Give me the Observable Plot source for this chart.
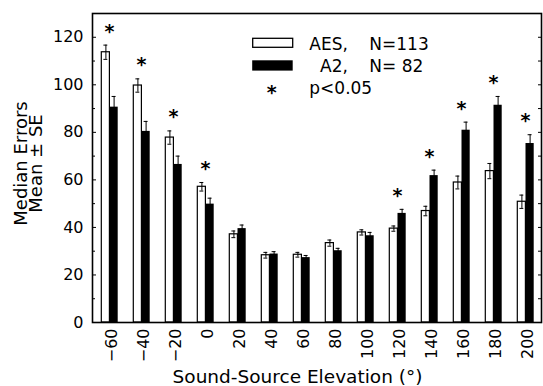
<!DOCTYPE html>
<html><head><meta charset="utf-8">
<script src="https://cdn.jsdelivr.net/npm/d3@7"></script>
<script src="https://cdn.jsdelivr.net/npm/@observablehq/plot@0.6"></script>
<style>
body{margin:0;background:#fff;}
#wrap{position:relative;width:543px;height:386px;font-family:"DejaVu Sans",sans-serif;}
#legend{position:absolute;left:0;top:0;pointer-events:none;}
</style></head><body><div id="wrap"></div>
<script>
const elevations = [-60,-40,-20,0,20,40,60,80,100,120,140,160,180,200];
const aesMean = [113.7,99.7,77.8,57.1,37.1,28.3,28.5,33.4,37.9,39.5,46.9,58.9,63.7,50.8];
const aesSE   = [3.0,2.8,2.8,1.8,1.4,1.2,1.0,1.3,1.1,1.1,2.0,2.7,3.2,2.8];
const a2Mean  = [90.6,80.4,66.5,49.8,39.5,28.8,27.3,30.2,36.5,45.9,61.8,80.9,91.4,75.3];
const a2SE    = [4.5,4.2,3.5,2.5,1.5,1.0,0.9,1.0,1.4,1.7,2.3,3.4,3.7,3.7];
const significant = [-60,-40,-20,0,120,140,160,180,200];
const yTicks = [0,20,40,60,80,100,120];
const yMinorTicks = [10,30,50,70,90,110];
const legendNames = ["AES,", "A2,"];
const legendN = ["N=113", "N= 82"];
const sigLabel = "p<0.05";

const aesRows = elevations.map((e,i)=>({elev:e, mean:aesMean[i], se:aesSE[i]}));
const a2Rows  = elevations.map((e,i)=>({elev:e, mean:a2Mean[i], se:a2SE[i]}));
const sigRows = significant.map(e=>{
  const i = elevations.indexOf(e);
  return {elev:e, top: Math.max(aesMean[i]+aesSE[i], a2Mean[i]+a2SE[i])};
});
const fmt = d => d < 0 ? "\u2212" + (-d) : String(d);

const chart = Plot.plot({
  width: 543, height: 386,
  marginLeft: 92, marginRight: 2, marginTop: 13, marginBottom: 64,
  style: {fontFamily: "DejaVu Sans, sans-serif", background: "white", color: "black"},
  x: {type: "band", domain: elevations, padding: 0},
  y: {domain: [0, 130]},
  marks: [
    Plot.barY(aesRows, {x: "elev", y: "mean", fill: "white", stroke: "black", strokeWidth: 1.2, insetLeft: 8.3, insetRight: 15.6}),
    Plot.barY(a2Rows, {x: "elev", y: "mean", fill: "black", insetLeft: 16.5, insetRight: 7.3}),
    Plot.ruleX(aesRows, {x: "elev", y1: d => d.mean - d.se, y2: d => d.mean + d.se, dx: -3.6, stroke: "black", strokeWidth: 1}),
    Plot.tickY(aesRows, {x: "elev", y: d => d.mean + d.se, insetLeft: 10.4, insetRight: 17.7, stroke: "black", strokeWidth: 1}),
    Plot.tickY(aesRows, {x: "elev", y: d => d.mean - d.se, insetLeft: 10.4, insetRight: 17.7, stroke: "black", strokeWidth: 1}),
    Plot.ruleX(a2Rows, {x: "elev", y1: d => d.mean - d.se, y2: d => d.mean + d.se, dx: 4.6, stroke: "black", strokeWidth: 1}),
    Plot.tickY(a2Rows, {x: "elev", y: d => d.mean + d.se, insetLeft: 18.6, insetRight: 9.4, stroke: "black", strokeWidth: 1}),
    Plot.text(sigRows, {x: "elev", y: d => d.top + 7, text: () => "*", fontSize: 19, fontWeight: "bold", dy: 3}),
    Plot.axisX({tickSize: 0, tickPadding: 6, tickRotate: -90, fontSize: 16, label: null, tickFormat: fmt, dx: 2}),
    Plot.axisY({anchor: "left", ticks: yTicks, tickSize: -4, tickPadding: 13, fontSize: 16, label: null}),
    Plot.axisY({anchor: "left", ticks: yMinorTicks, tickSize: -3, tickFormat: () => "", label: null}),
    Plot.axisY({anchor: "right", ticks: yTicks.concat(yMinorTicks), tickSize: -4, tickFormat: () => "", label: null}),
    Plot.frame({stroke: "black", strokeWidth: 1.6}),
    Plot.text(["Median Errors\nMean \u00b1 SE"], {frameAnchor: "left", textAnchor: "middle", lineAnchor: "middle", text: d => d, rotate: -90, fontSize: 18, lineHeight: 0.84, dx: -62.6, dy: -4.5}),
    Plot.text(["Sound-Source Elevation (\u00b0)"], {frameAnchor: "bottom", textAnchor: "middle", lineAnchor: "middle", text: d => d, fontSize: 18.5, dx: -19.5, dy: 55})
  ]
});
const wrap = document.getElementById("wrap");
wrap.appendChild(chart);

// legend overlay
const svg = d3.select(wrap).append("svg").attr("id","legend").attr("width",543).attr("height",386)
  .style("font-family","DejaVu Sans, sans-serif");
svg.append("rect").attr("x",252.7).attr("y",38.3).attr("width",40).attr("height",9).attr("fill","white").attr("stroke","black").attr("stroke-width",1.3);
svg.append("rect").attr("x",252.2).attr("y",60.3).attr("width",40.5).attr("height",10.3).attr("fill","black");
svg.append("text").attr("x",271.7).attr("y",99).attr("text-anchor","middle").attr("font-size",19).attr("font-weight","bold").text("*");
svg.append("text").attr("x",309.3).attr("y",50).attr("font-size",17).text(legendNames[0]);
svg.append("text").attr("x",369.3).attr("y",50).attr("font-size",17).text(legendN[0]);
svg.append("text").attr("x",320).attr("y",72).attr("font-size",17).text(legendNames[1]);
svg.append("text").attr("x",369.3).attr("y",72).attr("font-size",17).style("white-space","pre").text(legendN[1]);
svg.append("text").attr("x",309.3).attr("y",93.5).attr("font-size",17).text(sigLabel);
</script></body></html>
